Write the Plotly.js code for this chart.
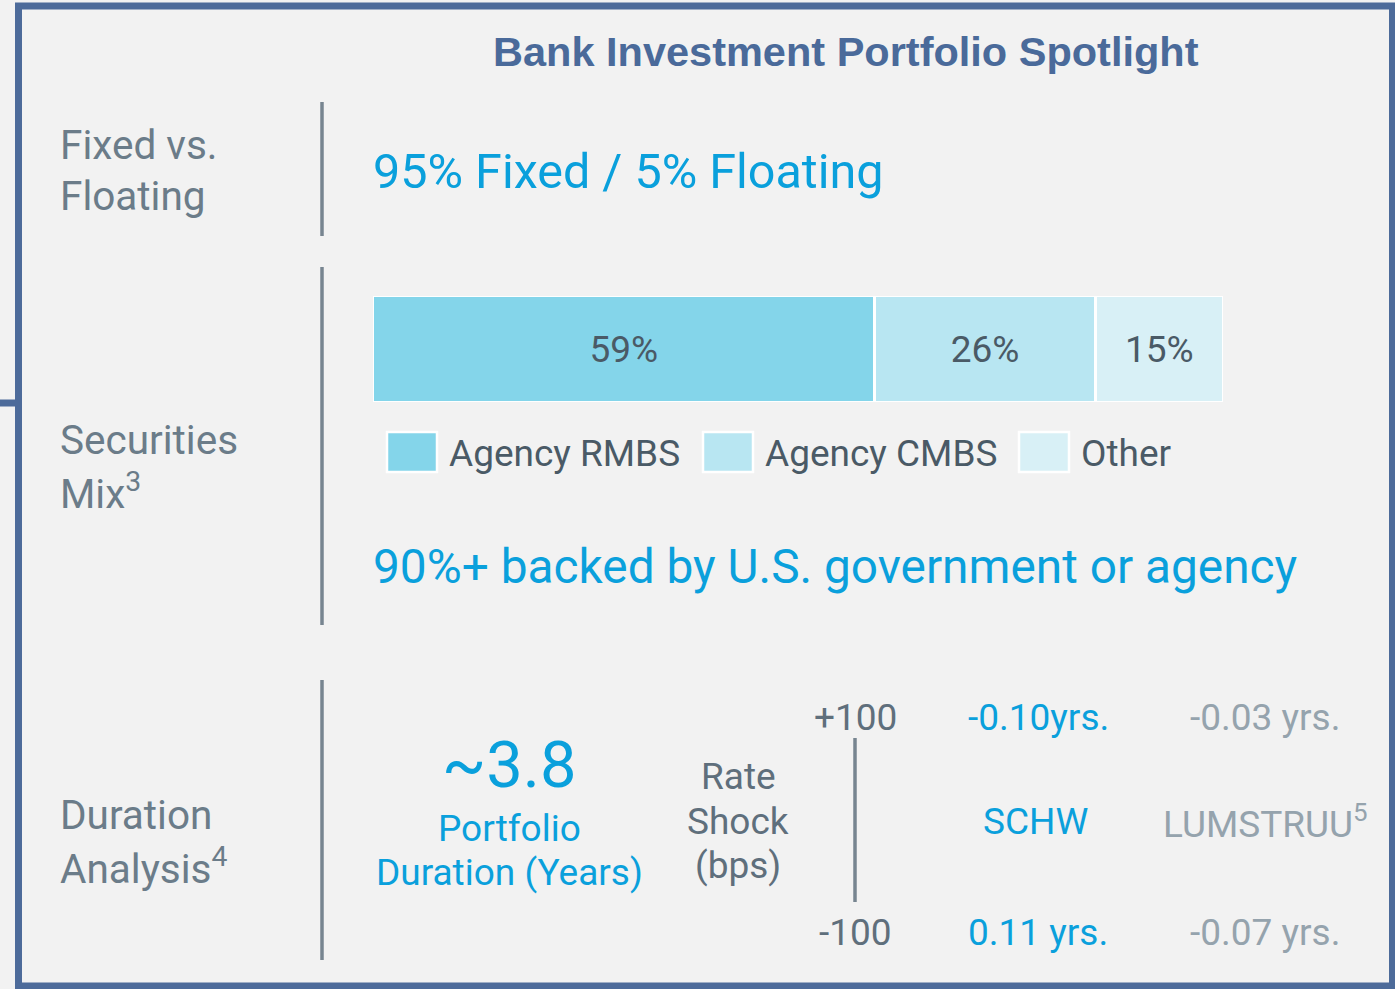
<!DOCTYPE html>
<html>
<head>
<meta charset="utf-8">
<script src="https://cdn.plot.ly/plotly-3.0.1.min.js"></script>
<style>
html,body{margin:0;padding:0;background:#f2f2f2;}
#chart{width:1395px;height:989px;}
</style>
</head>
<body>
<div id="chart"></div>
<script>
// ---- data ----
const categories = ['Agency RMBS', 'Agency CMBS', 'Other'];
const shares = [59, 26, 15];
const segColors = ['#84d5ea', '#b8e6f2', '#d8f0f6'];
const shockLabels = ['+100', '-100'];
const schwDuration = ['-0.10yrs.', '0.11 yrs.'];
const indexDuration = ['-0.03 yrs.', '-0.07 yrs.'];
const portfolioDuration = '~3.8';
const fixedFloating = '95% Fixed / 5% Floating';
const backedNote = '90%+ backed by U.S. government or agency';

// ---- helpers (pixel -> paper) ----
const W = 1395, H = 989;
const px = x => x / W;
const py = y => 1 - y / H;
const FONT = 'Roboto, sans-serif';
const GRAY = '#6b7c89';
const DARK = '#4a5a66';
const BLUE = '#0aa0dc';
const LIGHT = '#95a3ad';

const traces = categories.map((c, i) => ({
  type: 'bar',
  orientation: 'h',
  name: c,
  y: ['mix'],
  x: [shares[i]],
  width: 1,
  marker: {color: segColors[i], line: {color: '#ffffff', width: 2.5}},
  text: [shares[i] + '%'],
  textposition: 'inside',
  insidetextanchor: 'middle',
  textfont: {family: FONT, size: 37, color: DARK},
  hoverinfo: 'skip',
  showlegend: false
}));

const ann = [];
function t(text, x, y, size, color, anchor, extra) {
  ann.push(Object.assign({
    text: text, xref: 'paper', yref: 'paper', x: px(x), y: py(y),
    xanchor: anchor || 'left', yanchor: 'middle', showarrow: false,
    font: {family: FONT, size: size, color: color}
  }, extra || {}));
}

// title
t('<b>Bank Investment Portfolio Spotlight</b>', 846, 52, 41.5, '#4a6a9a', 'center',
  {font: {family: 'Liberation Sans Narrow, Arial Narrow, sans-serif', size: 41.5, color: '#4a6a9a'}});

// left labels
t('Fixed vs.', 58, 145, 40.5, GRAY);
t('Floating', 58, 196, 40.5, GRAY);
t('Securities', 58, 440, 40.5, GRAY);
t('Mix<sup>3</sup>', 58, 491, 40.5, GRAY);
t('Duration', 58, 815, 40.5, GRAY);
t('Analysis<sup>4</sup>', 58, 866, 40.5, GRAY);

// headline texts
t(fixedFloating, 371, 171, 48.5, BLUE);
t(backedNote, 371, 567, 47.8, BLUE);

// legend (built from categories)
const shapes = [];
const legX = [387, 703, 1019];
categories.forEach((c, i) => {
  shapes.push({type: 'rect', xref: 'paper', yref: 'paper',
    x0: px(legX[i]), x1: px(legX[i] + 50), y0: py(472), y1: py(432),
    fillcolor: segColors[i], line: {color: '#ffffff', width: 2.5}});
  t(c, legX[i] + 60, 454, 37, DARK);
});

// duration block
t(portfolioDuration, 509, 765, 65, BLUE, 'center');
t('Portfolio', 509, 828, 37, BLUE, 'center');
t('Duration (Years)', 509, 872, 37, BLUE, 'center');
t('Rate', 738, 776, 37, '#5f6f7c', 'center');
t('Shock', 738, 821, 37, '#5f6f7c', 'center');
t('(bps)', 738, 865, 37, '#5f6f7c', 'center');

const rowY = [717, 932];
shockLabels.forEach((s, i) => t(s, 856, rowY[i], 37, '#5f6f7c', 'center'));
schwDuration.forEach((s, i) => t(s, 1038, rowY[i], 37, BLUE, 'center'));
indexDuration.forEach((s, i) => t(s, 1265, rowY[i], 37, LIGHT, 'center'));
t('SCHW', 1035, 821, 37, BLUE, 'center');
t('LUMSTRUU<sup>5</sup>', 1265, 821, 37, LIGHT, 'center');

// divider lines
const DIV = '#778590';
[[102, 236], [267, 625], [680, 960]].forEach(([a, b]) => {
  shapes.push({type: 'line', xref: 'paper', yref: 'paper', x0: px(322), x1: px(322),
    y0: py(a), y1: py(b), line: {color: DIV, width: 3.5}});
});
shapes.push({type: 'line', xref: 'paper', yref: 'paper', x0: px(855), x1: px(855),
  y0: py(738), y1: py(902), line: {color: DIV, width: 3.5}});

// frame
const FRAME = '#4d6b9a';
shapes.push({type: 'rect', xref: 'paper', yref: 'paper', x0: px(18.5), x1: px(1392.5),
  y0: py(986), y1: py(6), line: {color: FRAME, width: 7}, fillcolor: 'rgba(0,0,0,0)'});
shapes.push({type: 'line', xref: 'paper', yref: 'paper', x0: 0, x1: px(18),
  y0: py(403), y1: py(403), line: {color: FRAME, width: 7}});

const layout = {
  width: W, height: H,
  margin: {l: 0, r: 0, t: 0, b: 0},
  paper_bgcolor: '#f2f2f2', plot_bgcolor: 'rgba(0,0,0,0)',
  barmode: 'stack',
  showlegend: false,
  xaxis: {domain: [px(373), px(1223)], range: [0, 100], visible: false, fixedrange: true},
  yaxis: {domain: [py(402), py(296)], range: [-0.5, 0.5], visible: false, fixedrange: true},
  annotations: ann,
  shapes: shapes,
  uniformtext: {mode: false}
};

Plotly.newPlot('chart', traces, layout, {displayModeBar: false, staticPlot: true});
</script>
</body>
</html>
